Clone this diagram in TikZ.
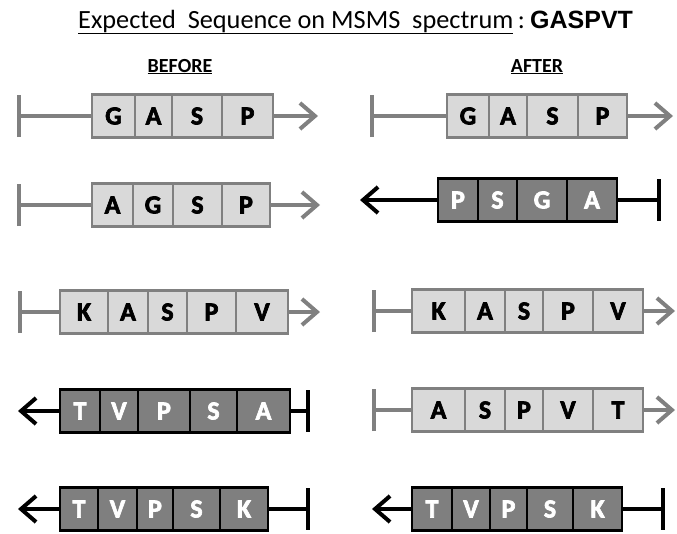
\documentclass[tikz,border=0pt]{standalone}
\usepackage{fontspec}
\setmainfont{Carlito}
\newfontfamily\seqfont{Liberation Sans}
\newfontfamily\cellfont[BoldFeatures={FakeBold=2.6}]{Carlito}
\usepackage{tikz}
\usetikzlibrary{arrows.meta,positioning}
\definecolor{CellLight}{HTML}{D9D9D9}
\definecolor{CellDark}{HTML}{7F7F7F}
\definecolor{LineGray}{HTML}{808080}

\begin{document}
\begin{tikzpicture}[
  x=1pt, y=-1pt,
  cell/.style={minimum height=43pt, inner sep=0pt, line width=2.5pt,
    font=\fontsize{26}{28}\selectfont\cellfont\bfseries},
  lcell/.style={cell, draw=LineGray, fill=CellLight, text=black},
  dcell/.style={cell, draw=black, fill=CellDark, text=white},
  gconn/.style={draw=LineGray, line width=4pt},
  kconn/.style={draw=black, line width=4pt},
  endbar/.tip={Bar[width=42pt]},
  openhead/.tip={Straight Barb[length=15pt, width=26pt]},
  head/.style={font=\fontsize{20}{24}\selectfont\bfseries, inner sep=0pt},
]
\useasboundingbox (0,0) rectangle (677,533);

% Title
\node[anchor=base west, inner sep=0pt, font=\fontsize{26.3}{30}\selectfont]
  (title) at (78,28) {\underline{Expected\ \ Sequence on MSMS\ \ spectrum}\,:};
\node[anchor=base west, inner sep=0pt, font=\fontsize{25}{30}\selectfont\seqfont\bfseries]
  (seq) at (530,28) {GASPVT};
\node[head, anchor=base] (before) at (180,72) {\underline{BEFORE}};
\node[head, anchor=base] (after) at (537,72) {\underline{AFTER}};

%% -- BEFORE --------------------------------------------------------------
\foreach \i/\xa/\xb/\l in {1/92/135/G,2/135/172/A,3/172/222/S,4/222/273/P}
  \node[lcell, minimum width={(\xb-\xa)*1pt}] (bf1c\i) at ({(\xa+\xb)/2},116) {\l};
\coordinate (bf1s) at (17,116);
\coordinate (bf1e) at (318,116);
\draw[gconn, endbar-] (bf1s) -- (bf1c1.west);
\draw[gconn, -openhead] (bf1c4.east) -- (bf1e);

\foreach \i/\xa/\xb/\l in {1/92/133/A,2/133/173/G,3/173/222/S,4/222/270/P}
  \node[lcell, minimum width={(\xb-\xa)*1pt}] (bf2c\i) at ({(\xa+\xb)/2},205) {\l};
\coordinate (bf2s) at (17,205);
\coordinate (bf2e) at (320,205);
\draw[gconn, endbar-] (bf2s) -- (bf2c1.west);
\draw[gconn, -openhead] (bf2c4.east) -- (bf2e);

\foreach \i/\xa/\xb/\l in {1/60/108/K,2/108/148/A,3/148/187/S,4/187/236/P,5/236/288/V}
  \node[lcell, minimum width={(\xb-\xa)*1pt}] (bf3c\i) at ({(\xa+\xb)/2},312) {\l};
\coordinate (bf3s) at (18,312);
\coordinate (bf3e) at (320,312);
\draw[gconn, endbar-] (bf3s) -- (bf3c1.west);
\draw[gconn, -openhead] (bf3c5.east) -- (bf3e);

\foreach \i/\xa/\xb/\l in {1/60/100/T,2/100/138/V,3/138/190/P,4/190/237/S,5/237/290/A}
  \node[dcell, minimum width={(\xb-\xa)*1pt}] (bf4c\i) at ({(\xa+\xb)/2},411) {\l};
\coordinate (bf4s) at (310,411);
\coordinate (bf4e) at (18,411);
\draw[kconn, -endbar] (bf4c5.east) -- (bf4s);
\draw[kconn, -openhead] (bf4c1.west) -- (bf4e);

\foreach \i/\xa/\xb/\l in {1/60/98/T,2/98/137/V,3/137/173/P,4/173/220/S,5/220/268/K}
  \node[dcell, minimum width={(\xb-\xa)*1pt}] (bf5c\i) at ({(\xa+\xb)/2},509) {\l};
\coordinate (bf5s) at (310,509);
\coordinate (bf5e) at (18,509);
\draw[kconn, -endbar] (bf5c5.east) -- (bf5s);
\draw[kconn, -openhead] (bf5c1.west) -- (bf5e);

%% -- AFTER ---------------------------------------------------------------
\foreach \i/\xa/\xb/\l in {1/447/489/G,2/489/527/A,3/527/578/S,4/578/627/P}
  \node[lcell, minimum width={(\xb-\xa)*1pt}] (af1c\i) at ({(\xa+\xb)/2},116) {\l};
\coordinate (af1s) at (370,116);
\coordinate (af1e) at (673,116);
\draw[gconn, endbar-] (af1s) -- (af1c1.west);
\draw[gconn, -openhead] (af1c4.east) -- (af1e);

\foreach \i/\xa/\xb/\l in {1/438/478/P,2/478/517/S,3/517/567/G,4/567/617/A}
  \node[dcell, minimum width={(\xb-\xa)*1pt}] (af2c\i) at ({(\xa+\xb)/2},200) {\l};
\coordinate (af2s) at (661,200);
\coordinate (af2e) at (360,200);
\draw[kconn, -endbar] (af2c4.east) -- (af2s);
\draw[kconn, -openhead] (af2c1.west) -- (af2e);

\foreach \i/\xa/\xb/\l in {1/412/465/K,2/465/505/A,3/505/543/S,4/543/593/P,5/593/643/V}
  \node[lcell, minimum width={(\xb-\xa)*1pt}] (af3c\i) at ({(\xa+\xb)/2},311) {\l};
\coordinate (af3s) at (372,311);
\coordinate (af3e) at (675,311);
\draw[gconn, endbar-] (af3s) -- (af3c1.west);
\draw[gconn, -openhead] (af3c5.east) -- (af3e);

\foreach \i/\xa/\xb/\l in {1/412/465/A,2/465/505/S,3/505/543/P,4/543/593/V,5/593/643/T}
  \node[lcell, minimum width={(\xb-\xa)*1pt}] (af4c\i) at ({(\xa+\xb)/2},410) {\l};
\coordinate (af4s) at (372,410);
\coordinate (af4e) at (675,410);
\draw[gconn, endbar-] (af4s) -- (af4c1.west);
\draw[gconn, -openhead] (af4c5.east) -- (af4e);

\foreach \i/\xa/\xb/\l in {1/412/452/T,2/452/490/V,3/490/527/P,4/527/573/S,5/573/622/K}
  \node[dcell, minimum width={(\xb-\xa)*1pt}] (af5c\i) at ({(\xa+\xb)/2},509) {\l};
\coordinate (af5s) at (665,509);
\coordinate (af5e) at (372,509);
\draw[kconn, -endbar] (af5c5.east) -- (af5s);
\draw[kconn, -openhead] (af5c1.west) -- (af5e);

\end{tikzpicture}
\end{document}
